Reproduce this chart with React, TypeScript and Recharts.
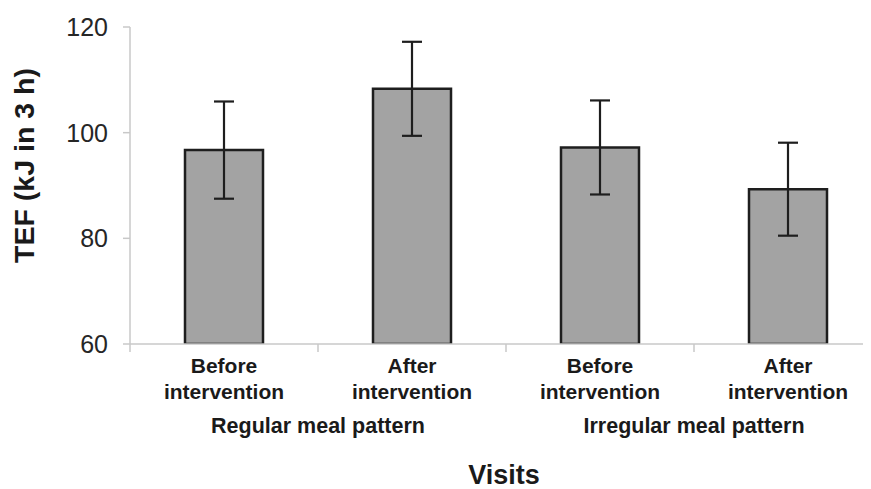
import React from "react";
import { BarChart, Bar, XAxis, YAxis, ErrorBar } from "recharts";

const visitLabels = ["Before intervention", "After intervention", "Before intervention", "After intervention"];
const groupLabels = ["Regular meal pattern", "Regular meal pattern", "Irregular meal pattern", "Irregular meal pattern"];
const tefMeans = [96.7, 108.3, 97.2, 89.3];
const tefErrors = [9.2, 8.9, 8.9, 8.8];
const yTicks = [60, 80, 100, 120];

const data = visitLabels.map((v, i) => ({ visit: v, group: groupLabels[i], tef: tefMeans[i], err: tefErrors[i] }));

const CHART_W = 900;
const CHART_H = 481;
const MARGIN = { top: 19, right: 26, bottom: 0, left: 0 };
const Y_AXIS_W = 122;
const CAT_W = (CHART_W - MARGIN.left - MARGIN.right - Y_AXIS_W) / data.length;
const FONT = "'Liberation Sans', Arial, sans-serif";

function XTick(props: any) {
  const { x, y, index } = props;
  const words = visitLabels[index].split(" ");
  const showGroup = index === 0 || groupLabels[index] !== groupLabels[index - 1];
  return (
    <g>
      <line x1={x - CAT_W / 2} y1={y} x2={x - CAT_W / 2} y2={y + 8} stroke="#c8c8c8" strokeWidth={1.5} />
      {index === data.length - 1 && (
        <line x1={x + CAT_W / 2} y1={y} x2={x + CAT_W / 2} y2={y + 8} stroke="#c8c8c8" strokeWidth={1.5} />
      )}
      <text x={x} y={y + 29} textAnchor="middle" fontFamily={FONT} fontWeight="bold" fontSize={21} fill="#1a1a1a">
        {words[0]}
      </text>
      <text x={x} y={y + 55} textAnchor="middle" fontFamily={FONT} fontWeight="bold" fontSize={21} fill="#1a1a1a">
        {words.slice(1).join(" ")}
      </text>
      {showGroup && (
        <text x={x + CAT_W / 2} y={y + 89} textAnchor="middle" fontFamily={FONT} fontWeight="bold" fontSize={21.5} fill="#1a1a1a">
          {groupLabels[index]}
        </text>
      )}
    </g>
  );
}

function XLabel(props: any) {
  const { viewBox } = props;
  const cx = viewBox.x + viewBox.width / 2 - 2;
  return (
    <text x={cx} y={viewBox.y + 140} textAnchor="middle" fontFamily={FONT} fontWeight="bold" fontSize={27} fill="#1a1a1a">
      Visits
    </text>
  );
}

function YLabel(props: any) {
  const { viewBox } = props;
  const x = viewBox.x + 26;
  const y = viewBox.y + viewBox.height / 2 - 20;
  return (
    <text
      x={x}
      y={y}
      textAnchor="middle"
      transform={`rotate(-90, ${x}, ${y})`}
      fontFamily={FONT}
      fontWeight="bold"
      fontSize={28.5}
      fill="#1a1a1a"
    >
      TEF (kJ in 3 h)
    </text>
  );
}

export default function App() {
  return (
    <div style={{ width: 863, height: CHART_H, overflow: "hidden", fontFamily: FONT, background: "#fff" }}>
      <BarChart width={CHART_W} height={CHART_H} data={data} margin={MARGIN}>
        <XAxis
          dataKey="visit"
          height={CHART_H - MARGIN.top - 317 - MARGIN.bottom}
          axisLine={{ stroke: "#c8c8c8", strokeWidth: 1.5 }}
          tickLine={false}
          tickSize={0}
          tickMargin={0}
          interval={0}
          tick={<XTick />}
          label={<XLabel />}
        />
        <YAxis
          width={Y_AXIS_W}
          domain={[60, 120]}
          ticks={yTicks}
          interval={0}
          allowDataOverflow
          axisLine={{ stroke: "#c8c8c8", strokeWidth: 1.5 }}
          tickLine={{ stroke: "#c8c8c8", strokeWidth: 1.5 }}
          tickSize={7}
          tickMargin={15}
          tick={{ fontSize: 25, fill: "#262626", fontFamily: FONT }}
          label={<YLabel />}
        />
        <Bar dataKey="tef" fill="#a3a3a3" stroke="#1e1e1e" strokeWidth={2.5} barSize={78} isAnimationActive={false}>
          <ErrorBar dataKey="err" width={10} stroke="#1e1e1e" strokeWidth={2.2} direction="y" isAnimationActive={false} />
        </Bar>
      </BarChart>
    </div>
  );
}
